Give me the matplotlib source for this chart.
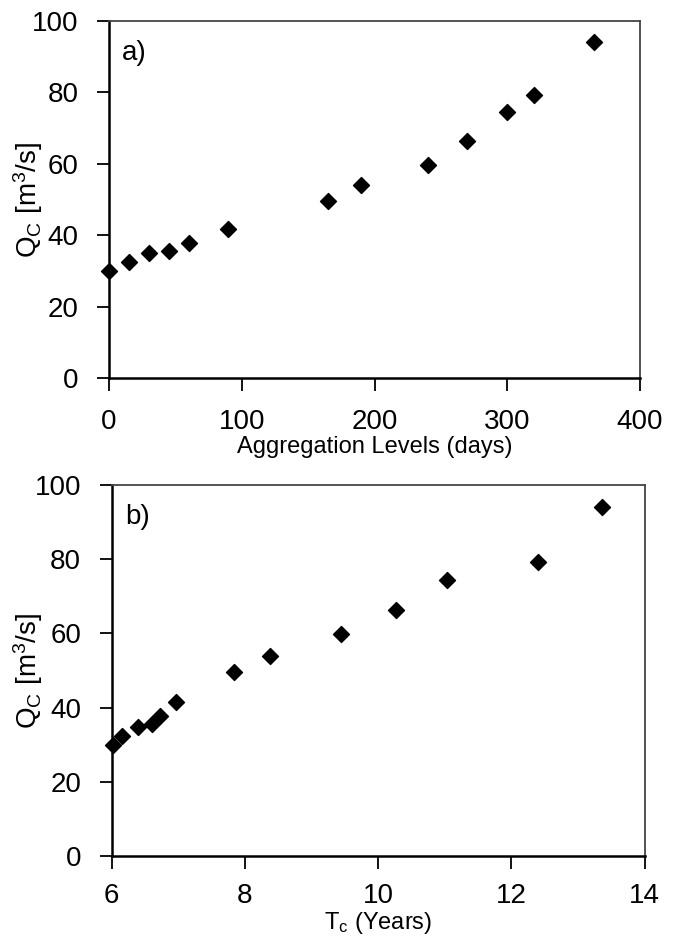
import matplotlib
matplotlib.use("Agg")
import matplotlib.pyplot as plt

plt.rcParams['font.family'] = ['Liberation Sans', 'DejaVu Sans']
plt.rcParams['mathtext.fontset'] = 'custom'
plt.rcParams['mathtext.rm'] = 'Liberation Sans'
plt.rcParams['mathtext.it'] = 'Liberation Sans:italic'

# Data
agg_days = [0, 15, 30, 45, 60, 90, 165, 190, 240, 270, 300, 320, 365]
qc = [30.0, 32.4, 34.9, 35.5, 37.7, 41.6, 49.6, 54.0, 59.8, 66.3, 74.5, 79.2, 94.0]
tc_years = [6.02, 6.15, 6.40, 6.60, 6.73, 6.97, 7.84, 8.37, 9.44, 10.27, 11.04, 12.40, 13.36]

xticks_a = [0, 100, 200, 300, 400]
xticks_b = [6, 8, 10, 12, 14]
yticks = [0, 20, 40, 60, 80, 100]

W, H = 682, 936
fig = plt.figure(figsize=(W / 100, H / 100), dpi=100)

def px_axes(l, t, r, b):
    return fig.add_axes([l / W, 1 - b / H, (r - l) / W, (b - t) / H])

ax1 = px_axes(109, 21, 640, 378)
ax2 = px_axes(111.7, 485, 644.7, 856)

FS = 20
ylabel = r'Q$_{\mathregular{C}}$ [m$^{\mathregular{3}}$/s]'

def style(ax, x, xticks, xlabel, tag, ylab_x, xpad, lpad):
    ax.scatter(x, qc, marker='D', s=66, color='black', zorder=3, clip_on=False)
    ax.set_xlim(xticks[0], xticks[-1])
    ax.set_ylim(0, 100)
    ax.set_xticks(xticks)
    ax.set_yticks(yticks)
    ax.tick_params(direction='out', length=9, width=1.3, labelsize=FS, color='black')
    ax.tick_params(axis='x', pad=xpad)
    ax.tick_params(axis='y', pad=13)
    for s in ['left', 'bottom']:
        ax.spines[s].set_linewidth(1.8)
        ax.spines[s].set_color('black')
    for s in ['top', 'right']:
        ax.spines[s].set_linewidth(1.3)
        ax.spines[s].set_color('#444444')
    ax.set_xlabel(xlabel, fontsize=17, labelpad=lpad)
    ax.set_ylabel(ylabel, fontsize=FS)
    ax.yaxis.set_label_coords(ylab_x, 0.5)
    ax.text(0.025, 0.948, tag, transform=ax.transAxes, fontsize=FS, va='top', ha='left')

style(ax1, agg_days, xticks_a, 'Aggregation Levels (days)', 'a)', -0.12, 13, 1)
style(ax2, tc_years, xticks_b, r'T$_{\mathregular{c}}$ (Years)', 'b)', -0.125, 10.5, 0.5)

fig.savefig('out.png', dpi=100)
